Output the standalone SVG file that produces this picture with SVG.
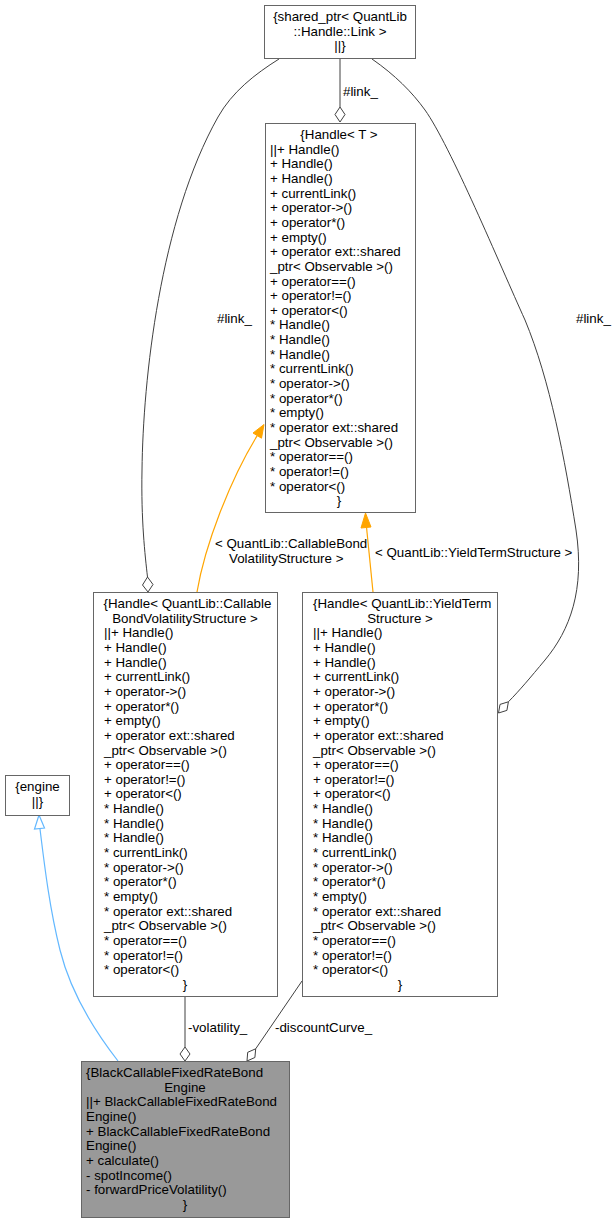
<svg xmlns="http://www.w3.org/2000/svg" width="616" height="1224" viewBox="0 0 616 1224">
<style>
text{font-family:"Liberation Sans",Arial,sans-serif;font-size:13.33px;fill:#000}
.c{text-anchor:middle}
.box{fill:#fff;stroke:#666;stroke-width:1}
.main{fill:#999;stroke:#666;stroke-width:1}
.e{fill:none;stroke:#404040;stroke-width:1}
.o{fill:none;stroke:#FFA500;stroke-width:1.2}
.b{fill:none;stroke:#63B8FF;stroke-width:1.2}
.dia{fill:#fff;stroke:#404040;stroke-width:1}
</style>
<rect width="616" height="1224" fill="#fff"/>
<g id="connectors">
  <!-- inheritance engine -->
  <path class="b" d="M118,1061 C90,1025 70,990 60,950 C50,910 45,870 40,829"/>
  <polygon points="39,815 34.5,829 44.5,828" fill="#fff" stroke="#63B8FF" stroke-width="1.2"/>
  <!-- volatility_ -->
  <path class="e" d="M185,997 L185,1047"/>
  <polygon class="dia" points="185,1047 190,1054 185,1061 180,1054"/>
  <text x="188" y="1032">-volatility_</text>
  <!-- discountCurve_ -->
  <path class="e" d="M302,981 L255.7,1048.8"/>
  <polygon class="dia" points="247,1061 254.9,1057.5 255.7,1048.8 247.7,1052.3"/>
  <text x="275" y="1032">-discountCurve_</text>
  <!-- shared_ptr to Handle T -->
  <path class="e" d="M340,59 L340,107"/>
  <polygon class="dia" points="340,107 345,114.5 340,122 335,114.5"/>
  <text x="343" y="96">#link_</text>
  <!-- shared_ptr to Callable -->
  <path class="e" d="M279,59 C255,74 232,92 218,117 C160,220 143,380 142,470 C141,520 145,555 147.5,577"/>
  <polygon class="dia" points="147.5,577 153,584.5 148,592 142.5,585"/>
  <text x="217" y="323">#link_</text>
  <!-- shared_ptr to YieldTerm -->
  <path class="e" d="M372,59 C395,75 412,92 425,110 C450,145 500,265 525,320 C550,380 565,460 576,530 C585,590 570,630 545,660 C530,678 520,690 508.4,701.8"/>
  <polygon class="dia" points="498.5,713 506.9,710.4 508.4,701.8 500,704.4"/>
  <text x="576" y="323">#link_</text>
  <!-- template Callable -->
  <path class="o" d="M197,592 C205,545 230,480 257.2,435.6"/>
  <polygon points="264,424.5 261.5,438.2 253,433" fill="#FFA500" stroke="#FFA500" stroke-width="1"/>
  <text x="215" y="548">&lt; QuantLib::CallableBond</text>
  <text x="229" y="562.6">VolatilityStructure &gt;</text>
  <!-- template YieldTerm -->
  <path class="o" d="M373,592 L366.5,527"/>
  <polygon points="365.5,513 371,527 361,528" fill="#FFA500" stroke="#FFA500" stroke-width="1"/>
  <text x="375" y="557">&lt; QuantLib::YieldTermStructure &gt;</text>
</g>
<g id="shared_ptr">
  <rect class="box" x="264.5" y="5.5" width="151" height="53"/>
  <text class="c" x="340" y="21">{shared_ptr&lt; QuantLib</text>
  <text class="c" x="340" y="35.65">::Handle::Link &gt;</text>
  <text class="c" x="340" y="50.3">||}</text>
</g>
<g id="handle_t">
  <rect class="box" x="265.5" y="123.5" width="150" height="389"/>
  <text class="c" x="339" y="139">{Handle&lt; T &gt;</text>
  <text x="270" y="139">
    <tspan x="270" dy="14.65">||+ Handle()</tspan>
    <tspan x="270" dy="14.65">+ Handle()</tspan>
    <tspan x="270" dy="14.65">+ Handle()</tspan>
    <tspan x="270" dy="14.65">+ currentLink()</tspan>
    <tspan x="270" dy="14.65">+ operator-&gt;()</tspan>
    <tspan x="270" dy="14.65">+ operator*()</tspan>
    <tspan x="270" dy="14.65">+ empty()</tspan>
    <tspan x="270" dy="14.65">+ operator ext::shared</tspan>
    <tspan x="270" dy="14.65">_ptr&lt; Observable &gt;()</tspan>
    <tspan x="270" dy="14.65">+ operator==()</tspan>
    <tspan x="270" dy="14.65">+ operator!=()</tspan>
    <tspan x="270" dy="14.65">+ operator&lt;()</tspan>
    <tspan x="270" dy="14.65">* Handle()</tspan>
    <tspan x="270" dy="14.65">* Handle()</tspan>
    <tspan x="270" dy="14.65">* Handle()</tspan>
    <tspan x="270" dy="14.65">* currentLink()</tspan>
    <tspan x="270" dy="14.65">* operator-&gt;()</tspan>
    <tspan x="270" dy="14.65">* operator*()</tspan>
    <tspan x="270" dy="14.65">* empty()</tspan>
    <tspan x="270" dy="14.65">* operator ext::shared</tspan>
    <tspan x="270" dy="14.65">_ptr&lt; Observable &gt;()</tspan>
    <tspan x="270" dy="14.65">* operator==()</tspan>
    <tspan x="270" dy="14.65">* operator!=()</tspan>
    <tspan x="270" dy="14.65">* operator&lt;()</tspan>
  </text>
  <text class="c" x="339" y="505.25">}</text>
</g>
<g id="handle_callable">
  <rect class="box" x="93.5" y="592.5" width="184" height="404"/>
  <text x="103.5" y="608">{Handle&lt; QuantLib::Callable</text>
  <text class="c" x="185" y="622.65">BondVolatilityStructure &gt;</text>
  <text x="104" y="622.65">
    <tspan x="104" dy="14.65">||+ Handle()</tspan>
    <tspan x="104" dy="14.65">+ Handle()</tspan>
    <tspan x="104" dy="14.65">+ Handle()</tspan>
    <tspan x="104" dy="14.65">+ currentLink()</tspan>
    <tspan x="104" dy="14.65">+ operator-&gt;()</tspan>
    <tspan x="104" dy="14.65">+ operator*()</tspan>
    <tspan x="104" dy="14.65">+ empty()</tspan>
    <tspan x="104" dy="14.65">+ operator ext::shared</tspan>
    <tspan x="104" dy="14.65">_ptr&lt; Observable &gt;()</tspan>
    <tspan x="104" dy="14.65">+ operator==()</tspan>
    <tspan x="104" dy="14.65">+ operator!=()</tspan>
    <tspan x="104" dy="14.65">+ operator&lt;()</tspan>
    <tspan x="104" dy="14.65">* Handle()</tspan>
    <tspan x="104" dy="14.65">* Handle()</tspan>
    <tspan x="104" dy="14.65">* Handle()</tspan>
    <tspan x="104" dy="14.65">* currentLink()</tspan>
    <tspan x="104" dy="14.65">* operator-&gt;()</tspan>
    <tspan x="104" dy="14.65">* operator*()</tspan>
    <tspan x="104" dy="14.65">* empty()</tspan>
    <tspan x="104" dy="14.65">* operator ext::shared</tspan>
    <tspan x="104" dy="14.65">_ptr&lt; Observable &gt;()</tspan>
    <tspan x="104" dy="14.65">* operator==()</tspan>
    <tspan x="104" dy="14.65">* operator!=()</tspan>
    <tspan x="104" dy="14.65">* operator&lt;()</tspan>
  </text>
  <text class="c" x="185" y="988.9">}</text>
</g>
<g id="handle_yield">
  <rect class="box" x="302.5" y="592.5" width="195" height="404"/>
  <text x="313" y="608">{Handle&lt; QuantLib::YieldTerm</text>
  <text class="c" x="400" y="622.65">Structure &gt;</text>
  <text x="313" y="622.65">
    <tspan x="313" dy="14.65">||+ Handle()</tspan>
    <tspan x="313" dy="14.65">+ Handle()</tspan>
    <tspan x="313" dy="14.65">+ Handle()</tspan>
    <tspan x="313" dy="14.65">+ currentLink()</tspan>
    <tspan x="313" dy="14.65">+ operator-&gt;()</tspan>
    <tspan x="313" dy="14.65">+ operator*()</tspan>
    <tspan x="313" dy="14.65">+ empty()</tspan>
    <tspan x="313" dy="14.65">+ operator ext::shared</tspan>
    <tspan x="313" dy="14.65">_ptr&lt; Observable &gt;()</tspan>
    <tspan x="313" dy="14.65">+ operator==()</tspan>
    <tspan x="313" dy="14.65">+ operator!=()</tspan>
    <tspan x="313" dy="14.65">+ operator&lt;()</tspan>
    <tspan x="313" dy="14.65">* Handle()</tspan>
    <tspan x="313" dy="14.65">* Handle()</tspan>
    <tspan x="313" dy="14.65">* Handle()</tspan>
    <tspan x="313" dy="14.65">* currentLink()</tspan>
    <tspan x="313" dy="14.65">* operator-&gt;()</tspan>
    <tspan x="313" dy="14.65">* operator*()</tspan>
    <tspan x="313" dy="14.65">* empty()</tspan>
    <tspan x="313" dy="14.65">* operator ext::shared</tspan>
    <tspan x="313" dy="14.65">_ptr&lt; Observable &gt;()</tspan>
    <tspan x="313" dy="14.65">* operator==()</tspan>
    <tspan x="313" dy="14.65">* operator!=()</tspan>
    <tspan x="313" dy="14.65">* operator&lt;()</tspan>
  </text>
  <text class="c" x="400" y="988.9">}</text>
</g>
<g id="engine">
  <rect class="box" x="5.5" y="775.5" width="64" height="40"/>
  <text class="c" x="37.5" y="791">{engine</text>
  <text class="c" x="37.5" y="805.65">||}</text>
</g>
<g id="black_engine">
  <rect class="main" x="81.5" y="1061.5" width="208" height="156"/>
  <text x="86" y="1077">{BlackCallableFixedRateBond</text>
  <text class="c" x="185" y="1091.65">Engine</text>
  <text x="86" y="1091.65">
    <tspan x="86" dy="14.65">||+ BlackCallableFixedRateBond</tspan>
    <tspan x="86" dy="14.65">Engine()</tspan>
    <tspan x="86" dy="14.65">+ BlackCallableFixedRateBond</tspan>
    <tspan x="86" dy="14.65">Engine()</tspan>
    <tspan x="86" dy="14.65">+ calculate()</tspan>
    <tspan x="86" dy="14.65">- spotIncome()</tspan>
    <tspan x="86" dy="14.65">- forwardPriceVolatility()</tspan>
  </text>
  <text class="c" x="185" y="1208.85">}</text>
</g>
</svg>
